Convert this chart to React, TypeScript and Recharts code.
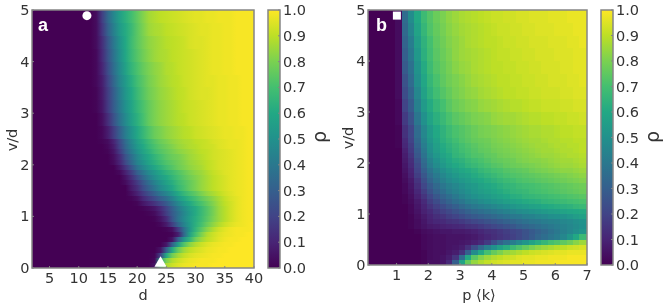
import React from "react";
import { ScatterChart, XAxis, YAxis, ZAxis, Scatter, ReferenceArea } from "recharts";

const FONT = "'DejaVu Sans', sans-serif";
const TEXT = "#333333";
const FRAME = "#858585";

const viridis = ["#440154", "#482475", "#414487", "#355f8d", "#2a788e", "#21918c", "#22a884", "#44bf70", "#7ad151", "#bddf26", "#fde725"];

const barTicks = [0, 0.1, 0.2, 0.3, 0.4, 0.5, 0.6, 0.7, 0.8, 0.9, 1];
const vTicks = [0, 1, 2, 3, 4, 5];
const dTicks = [5, 10, 15, 20, 25, 30, 35, 40];
const pTicks = [1, 2, 3, 4, 5, 6, 7];

// Panel a: d columns that hold anything above zero; left of them rho is 0.
const dColumns = [12, 13, 14, 15, 16, 17, 18, 19, 20, 21, 22, 23, 24, 25, 26, 27, 28, 29, 30, 31, 32, 33, 34, 35, 36, 37, 38, 39, 40];
const vEdgesA = [0, 0.1, 0.2, 0.3, 0.4, 0.5, 0.6, 0.7, 0.8, 0.9, 1, 1.1, 1.2, 1.3, 1.4, 1.5, 1.6, 1.7, 1.8, 1.9, 2, 2.1, 2.2, 2.3, 2.4, 2.5, 2.75, 3, 3.25, 3.5, 3.75, 4, 4.25, 4.5, 4.75, 5];
const rhoA = [
  [0,0,0,0,0,0,0,0,0,0,0,5,70,87,92,95,97,98,99,99,99,100,100,100,100,100,100,100,100],
  [0,0,0,0,0,0,0,0,0,0,0,2,55,80,88,92,95,97,98,99,99,99,100,100,100,100,100,100,100],
  [0,0,0,0,0,0,0,0,0,0,0,1,20,60,78,86,91,94,96,97,98,99,99,100,100,100,100,100,100],
  [0,0,0,0,0,0,0,0,0,0,0,0,5,30,60,76,85,90,93,95,97,98,99,99,100,100,100,100,100],
  [0,0,0,0,0,0,0,0,0,0,0,0,0,6,30,55,72,82,88,92,95,97,98,99,99,100,100,100,100],
  [0,0,0,0,0,0,0,0,0,0,0,0,0,0,5,30,52,65,78,85,90,93,96,98,99,99,100,100,100],
  [0,0,0,0,0,0,0,0,0,0,0,0,0,0,1,8,33,57,70,80,88,92,95,97,98,99,99,100,100],
  [0,0,0,0,0,0,0,0,0,0,0,0,0,1,4,17,36,52,65,74,82,88,93,96,98,99,99,99,100],
  [0,0,0,0,0,0,0,0,0,0,0,0,2,7,18,32,44,54,63,70,77,83,88,92,95,97,98,99,100],
  [0,0,0,0,0,0,0,0,0,0,0,1,5,12,26,38,47,55,62,68,74,80,85,89,93,96,98,99,99],
  [0,0,0,0,0,0,0,0,0,0,1,3,9,18,28,37,46,54,61,67,73,79,85,89,93,96,98,99,99],
  [0,0,0,0,0,0,0,0,0,1,3,6,12,20,30,40,48,55,61,67,73,79,85,89,93,96,98,99,99],
  [0,0,0,0,0,0,0,0,1,6,10,15,21,28,37,46,54,60,66,71,76,81,86,90,93,96,98,99,99],
  [0,0,0,0,0,0,0,1,4,11,17,23,30,36,44,53,60,65,70,75,79,83,87,91,94,96,98,99,99],
  [0,0,0,0,0,0,0,4,9,17,24,31,39,45,52,60,66,71,75,80,84,87,90,93,95,97,98,99,99],
  [0,0,0,0,0,0,0,7,13,23,31,39,47,53,59,66,71,76,80,84,87,90,92,94,96,97,98,99,99],
  [0,0,0,0,0,0,3,9,17,27,36,44,51,57,62,68,72,76,80,84,87,90,92,94,96,97,98,99,99],
  [0,0,0,0,0,0,5,13,23,33,42,49,55,60,65,70,74,78,81,84,87,90,92,94,96,97,98,99,99],
  [0,0,0,0,0,2,9,18,30,39,47,53,59,64,68,72,76,80,83,85,88,91,93,95,96,97,98,99,99],
  [0,0,0,0,0,6,15,26,38,46,53,59,64,69,73,77,80,83,85,87,90,92,94,95,96,97,98,99,99],
  [0,0,0,0,3,10,22,33,44,51,58,63,68,72,75,78,81,84,86,88,90,92,94,95,96,97,98,99,99],
  [0,0,0,0,4,12,25,36,46,54,60,65,70,74,77,79,82,85,87,89,91,93,94,95,96,97,98,99,99],
  [0,0,0,1,6,17,30,41,50,58,63,69,73,76,79,82,84,86,88,90,91,93,94,95,96,97,98,99,99],
  [0,0,0,2,8,20,33,44,53,60,66,71,75,78,81,84,86,88,89,91,92,93,95,96,97,97,98,99,99],
  [0,0,1,3,10,22,35,46,55,62,68,73,77,80,83,85,87,88,90,91,92,94,95,96,97,97,98,99,99],
  [0,0,2,8,18,30,42,51,59,66,72,77,80,83,85,87,89,90,92,93,94,95,96,97,97,98,98,99,99],
  [0,0,4,13,25,37,47,56,63,70,76,80,83,85,87,89,90,92,93,94,95,96,97,97,98,98,99,99,99],
  [0,1,6,17,29,40,50,58,65,71,76,80,83,85,87,89,91,92,93,94,95,96,97,97,98,98,99,99,99],
  [0,1,7,18,30,42,52,60,67,73,78,81,84,86,88,90,91,93,94,95,95,96,97,97,98,98,99,99,99],
  [0,2,8,20,33,45,54,62,69,74,79,82,85,87,89,90,92,93,94,95,96,96,97,97,98,98,99,99,99],
  [0,2,10,23,36,47,57,65,71,76,80,83,85,88,89,91,92,93,94,95,96,97,97,98,98,99,99,99,99],
  [0,2,12,25,38,49,59,67,73,78,82,85,87,88,90,91,92,93,94,95,96,97,97,98,98,99,99,99,99],
  [0,3,13,27,40,51,60,68,74,79,83,85,87,89,90,91,92,94,95,95,96,97,97,98,98,99,99,99,99],
  [0,3,16,31,43,54,61,67,74,80,85,87,88,90,91,92,93,94,95,96,96,97,97,98,98,99,99,99,99],
  [0,3,18,34,46,56,63,69,75,81,86,88,90,91,92,93,94,95,96,96,97,97,98,98,98,99,99,99,99],
];

// Panel b: p column edges from the first column above zero, then the v bands.
const pEdges = [0.96, 1.16, 1.36, 1.56, 1.76, 1.96, 2.16, 2.36, 2.56, 2.76, 2.96, 3.16, 3.36, 3.56, 3.76, 3.96, 4.16, 4.36, 4.56, 4.76, 4.96, 5.16, 5.36, 5.56, 5.76, 5.96, 6.16, 6.36, 6.56, 6.76, 6.96, 7];
const vEdgesB = [0, 0.1, 0.2, 0.3, 0.4, 0.5, 0.6, 0.7, 0.8, 0.9, 1, 1.1, 1.2, 1.3, 1.4, 1.5, 1.6, 1.7, 1.8, 1.9, 2, 2.1, 2.2, 2.3, 2.4, 2.5, 2.75, 3, 3.25, 3.5, 3.75, 4, 4.25, 4.5, 4.75, 5];
const rhoB = [
  [0,0,0,0,1,4,4,6,12,30,58,76,84,88,91,93,94,95,96,96,97,97,98,98,98,99,99,99,99,99,99],
  [0,0,0,0,1,3,4,5,8,15,35,60,74,81,85,88,90,92,93,95,96,96,97,97,98,98,98,99,99,99,99],
  [0,0,0,0,1,3,4,4,6,8,14,30,48,60,70,76,80,84,86,88,90,92,93,94,95,96,96,97,97,97,98],
  [0,0,0,0,2,3,4,4,5,6,8,14,24,34,43,50,57,62,68,72,76,80,83,85,87,89,90,92,93,94,95],
  [0,0,0,0,2,3,4,4,5,5,6,7,9,12,17,24,31,37,42,47,52,58,62,66,70,72,75,78,82,85,88],
  [0,0,0,0,2,3,4,4,5,5,5,6,7,9,11,13,15,17,19,22,25,29,33,36,39,42,46,52,60,68,72],
  [0,0,0,1,3,4,5,6,6,7,7,8,9,11,13,14,16,18,20,22,25,28,31,34,37,40,43,46,49,52,55],
  [0,0,1,3,5,7,8,9,10,11,12,14,15,17,19,21,23,25,27,30,32,34,36,38,40,42,44,46,48,50,52],
  [0,0,1,3,6,9,11,12,14,15,17,19,21,23,25,27,29,31,33,35,37,39,40,42,43,44,46,47,49,51,53],
  [0,0,1,4,7,10,13,15,18,20,23,26,28,30,32,34,36,38,40,41,43,44,46,47,49,50,51,53,55,57,58],
  [0,0,2,5,9,12,16,19,22,25,28,31,34,36,38,40,42,44,46,48,49,51,52,54,55,56,58,59,60,61,62],
  [0,0,2,6,10,15,19,23,27,30,34,37,40,42,44,46,48,50,52,54,55,57,58,60,61,62,63,64,66,67,68],
  [0,1,3,7,12,18,23,28,32,36,39,43,45,48,50,52,54,56,58,59,61,62,63,65,66,67,68,69,70,71,72],
  [0,1,4,9,15,21,27,32,36,40,44,47,50,52,54,56,58,60,62,63,65,66,67,68,69,70,71,72,73,74,75],
  [0,2,5,11,18,25,31,36,41,44,47,50,53,55,57,59,61,63,65,66,67,69,70,71,72,73,74,75,76,77,78],
  [0,2,6,13,21,28,34,39,43,46,49,52,54,57,59,61,63,65,66,68,69,70,71,72,73,74,75,76,77,78,80],
  [0,3,7,15,24,32,38,43,47,50,53,55,58,60,62,64,66,68,69,71,72,73,74,75,76,77,78,79,80,81,83],
  [0,4,9,18,27,35,41,46,50,53,56,58,61,63,65,67,69,71,72,73,74,75,76,77,78,79,80,81,82,83,85],
  [0,5,10,20,30,38,44,49,53,56,59,61,63,66,68,70,71,73,74,75,76,78,79,80,81,82,83,83,84,85,86],
  [0,6,12,22,33,42,48,53,57,60,62,65,67,69,71,73,74,76,77,78,79,80,81,82,83,84,85,85,86,87,88],
  [0,7,13,24,35,44,50,55,59,62,64,67,69,71,73,75,76,77,78,80,81,82,82,83,84,85,86,86,87,88,90],
  [0,8,15,27,38,47,53,58,61,65,67,70,72,73,75,76,78,79,80,81,82,83,84,85,85,86,87,88,88,89,90],
  [0,9,17,29,40,49,55,60,63,66,69,71,73,75,76,78,79,80,81,82,83,84,85,86,86,87,88,88,89,90,90],
  [1,11,18,31,42,50,56,61,64,67,70,72,74,76,77,79,80,81,82,83,84,85,86,86,87,88,88,89,89,90,91],
  [1,12,20,33,44,52,58,63,66,69,72,74,76,77,78,80,81,82,83,84,85,86,86,87,88,88,89,89,90,90,91],
  [1,14,21,35,46,54,60,64,68,71,73,75,77,79,80,81,82,83,84,85,86,87,87,88,88,89,90,90,91,91,92],
  [2,17,25,39,50,58,63,67,71,74,76,78,80,81,82,84,85,86,86,87,88,89,89,90,90,91,91,92,92,93,94],
  [2,20,29,43,54,61,66,70,74,77,79,81,82,84,85,86,87,88,89,89,90,91,91,92,92,92,93,93,94,94,95],
  [3,23,32,46,57,64,69,73,76,79,81,83,84,86,87,88,89,90,90,91,91,92,92,93,93,93,94,94,95,95,96],
  [3,25,35,49,59,66,71,75,78,80,82,84,86,87,88,89,90,90,91,91,92,92,93,93,94,94,94,95,95,96,96],
  [3,28,37,51,61,68,73,76,79,82,84,85,87,88,89,90,90,91,91,92,92,93,93,94,94,94,95,95,96,96,97],
  [3,30,40,53,63,69,74,77,80,83,85,86,87,88,89,90,91,91,92,92,93,93,94,94,94,95,95,95,96,96,97],
  [3,32,42,55,64,70,75,78,81,83,85,87,88,89,90,90,91,92,92,93,93,94,94,94,95,95,95,96,96,97,97],
  [3,34,45,58,66,72,76,79,82,84,86,87,88,89,90,91,92,92,93,93,94,94,95,95,95,96,96,96,97,97,97],
  [3,35,48,60,68,73,77,80,83,85,87,88,89,90,91,92,92,93,93,94,94,95,95,95,96,96,96,97,97,97,98],
];

const circleMark = [{ x: 11.4, y: 4.89 }];
const triangleMark = [{ x: 24, y: 0.09 }];
const squareMark = [{ x: 1.01, y: 4.89 }];
const barAnchors = [{ x: 0, y: 0 }, { x: 1, y: 1 }];

function hex(c: string) {
  return [1, 3, 5].map((i) => parseInt(c.slice(i, i + 2), 16));
}
function colorOf(percent: number) {
  const t = Math.min(Math.max(percent, 0), 100) / 10;
  const i = Math.min(Math.floor(t), 9);
  const a = hex(viridis[i]);
  const b = hex(viridis[i + 1]);
  const m = a.map((v, k) => Math.round(v + (b[k] - v) * (t - i)));
  return `rgb(${m[0]},${m[1]},${m[2]})`;
}

const XTick = ({ x, y, payload }: any) => (
  <g>
    <line x1={x} x2={x} y1={y} y2={y - 2} stroke={FRAME} />
    <text x={x} y={y + 14.5} textAnchor="middle" fontFamily={FONT} fontSize={14.5} fill={TEXT}>{payload.value}</text>
  </g>
);
const YTick = ({ x, y, payload }: any) => (
  <g>
    <line x1={x} x2={x + 2} y1={y} y2={y} stroke={FRAME} />
    <text x={x - 2.5} y={y + 5} textAnchor="end" fontFamily={FONT} fontSize={14.5} fill={TEXT}>{payload.value}</text>
  </g>
);
const BarTick = ({ x, y, payload }: any) => (
  <g>
    <line x1={x} x2={x - 2} y1={y} y2={y} stroke={FRAME} />
    <text x={x + 3} y={y + 5} textAnchor="start" fontFamily={FONT} fontSize={14.5} fill={TEXT}>{payload.value.toFixed(1)}</text>
  </g>
);

const Label = ({ x, y, text, rotate, size = 14.5 }: any) => (
  <text x={x} y={y} textAnchor="middle" dominantBaseline="central" fontFamily={FONT} fontSize={size} fill={TEXT}
    transform={rotate ? `rotate(-90 ${x} ${y})` : undefined}>{text}</text>
);
const Letter = ({ x, y, text }: any) => (
  <text x={x} y={y} fontFamily="'Liberation Sans', sans-serif" fontWeight="bold" fontSize={18} fill="#ffffff">{text}</text>
);

const Frame = ({ x1, x2 }: any) => (
  <ReferenceArea x1={x1} x2={x2} y1={0} y2={5} fill="none" stroke={FRAME} strokeWidth={1.5} ifOverflow="visible" />
);

function ColorBar({ left, right, top, bottom, id }: any) {
  return (
    <div style={{ position: "absolute", left: 0, top: 0 }}>
      <ScatterChart width={right + 60} height={306} margin={{ left, right: 59, top, bottom: 306 - bottom }}>
        <defs>
          <linearGradient id={id} x1="0" y1="1" x2="0" y2="0">
            {viridis.map((c, i) => <stop key={i} offset={i / 10} stopColor={c} />)}
          </linearGradient>
        </defs>
        <XAxis type="number" dataKey="x" domain={[0, 1]} hide />
        <YAxis type="number" dataKey="y" domain={[0, 1]} ticks={barTicks} orientation="right" width={1} tick={BarTick} tickLine={false} axisLine={false} tickSize={0} tickMargin={0} interval={0} />
        <Scatter data={barAnchors} shape={() => null} isAnimationActive={false} />
        <ReferenceArea x1={0} x2={1} y1={0} y2={1} fill={`url(#${id})`} fillOpacity={1} stroke={FRAME} strokeWidth={1.5} />
      </ScatterChart>
    </div>
  );
}

function PanelA() {
  const w = 332;
  return (
    <div style={{ position: "absolute", left: 0, top: 0 }}>
      <ScatterChart width={w} height={306} margin={{ left: 31, right: w - 254, top: 10, bottom: 305 - 268 }}>
        <defs>
          {rhoA.map((row, i) => (
            <linearGradient key={i} id={`a${i}`} x1="0" y1="0" x2="1" y2="0">
              {row.map((r, k) => <stop key={k} offset={k / (dColumns.length - 1)} stopColor={colorOf(r)} />)}
            </linearGradient>
          ))}
        </defs>
        <XAxis type="number" dataKey="x" domain={[2, 40]} ticks={dTicks} height={1} tick={XTick} tickLine={false} axisLine={false} tickSize={0} tickMargin={0} interval={0} />
        <YAxis type="number" dataKey="y" domain={[0, 5]} ticks={vTicks} width={1} tick={YTick} tickLine={false} axisLine={false} tickSize={0} tickMargin={0} interval={0} />
        <ZAxis zAxisId="c" type="number" dataKey="z" range={[54, 54]} />
        <ZAxis zAxisId="t" type="number" dataKey="z" range={[38, 38]} />
        <ReferenceArea x1={2} x2={dColumns[0]} y1={0} y2={5} fill={colorOf(0)} fillOpacity={1} shapeRendering="crispEdges" />
        {rhoA.map((_, i) => (
          <ReferenceArea key={i} x1={dColumns[0]} x2={dColumns[dColumns.length - 1]} y1={vEdgesA[i]} y2={vEdgesA[i + 1]} fill={`url(#a${i})`} fillOpacity={1} shapeRendering="crispEdges" />
        ))}
        {Frame({ x1: 2, x2: 40 })}
        <Scatter data={circleMark} zAxisId="c" shape="circle" fill="#ffffff" isAnimationActive={false} />
        <Scatter data={triangleMark} zAxisId="t" shape="triangle" fill="#ffffff" isAnimationActive={false} />
      </ScatterChart>
    </div>
  );
}

function PanelB() {
  const w = 664;
  return (
    <div style={{ position: "absolute", left: 0, top: 0 }}>
      <ScatterChart width={w} height={306} margin={{ left: 367, right: w - 587, top: 10, bottom: 305 - 265 }}>
        <XAxis type="number" dataKey="x" domain={[0.1, 7]} ticks={pTicks} height={1} tick={XTick} tickLine={false} axisLine={false} tickSize={0} tickMargin={0} interval={0} />
        <YAxis type="number" dataKey="y" domain={[0, 5]} ticks={vTicks} width={1} tick={YTick} tickLine={false} axisLine={false} tickSize={0} tickMargin={0} interval={0} />
        <ZAxis type="number" dataKey="z" range={[64, 64]} />
        <ReferenceArea x1={0.1} x2={pEdges[0]} y1={0} y2={5} fill={colorOf(0)} fillOpacity={1} shapeRendering="crispEdges" />
        {rhoB.flatMap((row, i) => row.map((r, k) => (
          <ReferenceArea key={`${i}-${k}`} x1={pEdges[k]} x2={pEdges[k + 1]} y1={vEdgesB[i]} y2={vEdgesB[i + 1]} fill={colorOf(r)} fillOpacity={1} shapeRendering="crispEdges" />
        )))}
        {Frame({ x1: 0.1, x2: 7 })}
        <Scatter data={squareMark} shape="square" fill="#ffffff" isAnimationActive={false} />
      </ScatterChart>
    </div>
  );
}

export default function App() {
  return (
    <div style={{ position: "absolute", left: 0, top: 0, width: 664, height: 306, background: "#fff", overflow: "hidden", filter: "blur(0.45px)" }}>
      <PanelA />
      <PanelB />
      <ColorBar left={268} right={280} top={10} bottom={268} id="barA" />
      <ColorBar left={601} right={613} top={10} bottom={265} id="barB" />
      <svg width={664} height={306} style={{ position: "absolute", left: 0, top: 0 }}>
        <Letter x={38} y={30.5} text="a" />
        <Letter x={376} y={30.5} text="b" />
        <Label x={12} y={140} text="v/d" rotate />
        <Label x={143} y={295} text="d" />
        <Label x={319} y={137} text="ρ" rotate size={19} />
        <Label x={348} y={138} text="v/d" rotate />
        <Label x={479} y={295} text="p ⟨k⟩" />
        <Label x={652} y={137} text="ρ" rotate size={19} />
      </svg>
    </div>
  );
}
